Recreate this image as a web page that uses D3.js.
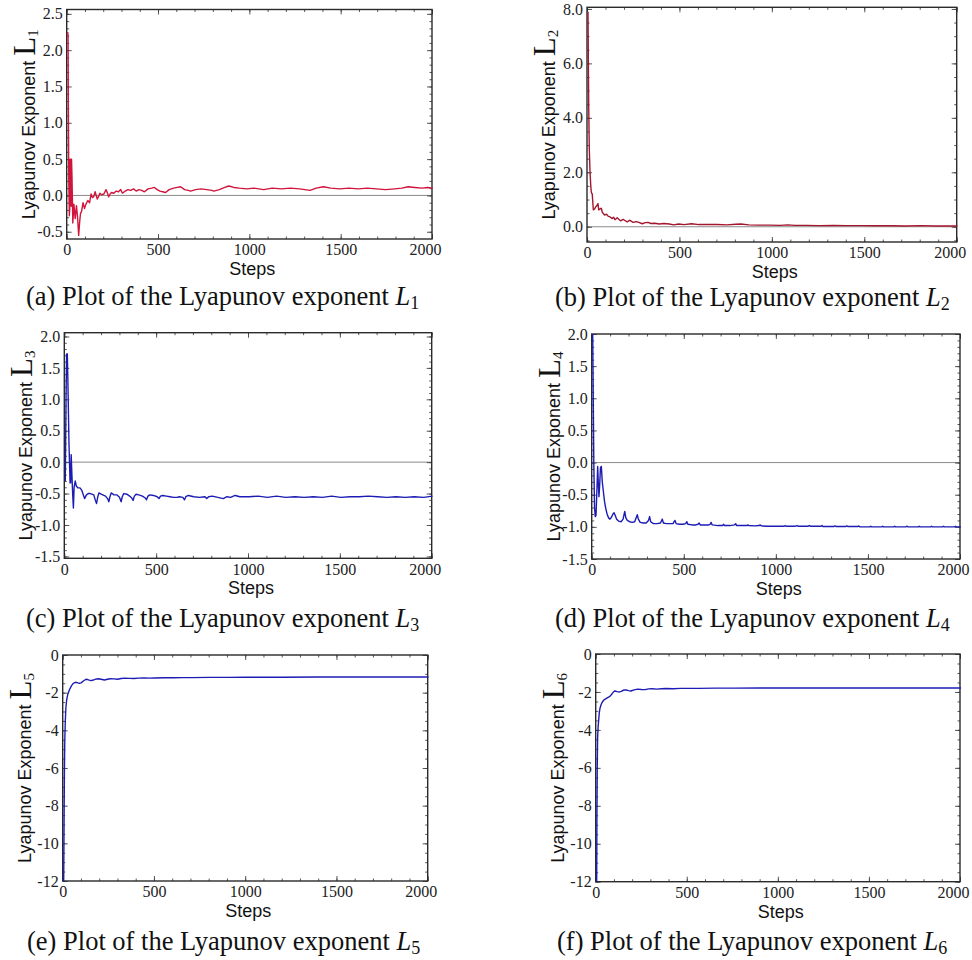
<!DOCTYPE html>
<meta charset="utf-8">
<style>
body { margin: 0; background: #fff; }
svg { display: block; }
</style>
<svg width="972" height="960"></svg>
<script src="https://cdn.jsdelivr.net/npm/d3@7"></script>
<script>

// [step, exponent]
var l1 = [[0,2.25],[2,2.2],[4,1.0],[6,0.2],[9,-0.28],[11,-0.2],[13,0.5],[15,0.5],[17,0.1],[19,-0.15],[21,0.5],[24,0.2],[28,-0.38],[34,-0.12],[41,-0.32],[48,-0.14],[54,-0.3],[60,-0.55],[66,-0.35],[70,-0.25],[76,-0.22],[84,-0.1],[92,-0.18],[100,-0.12],[110,-0.07],[120,-0.1],[128,0.02],[135,-0.03],[142,-0.02],[150,0.05],[156,0.0],[162,-0.05],[170,-0.01],[176,0.03],[186,0.01],[198,0.02],[210,0.08],[218,0.03],[224,-0.02],[232,0.02],[240,0.04],[252,0.03],[266,0.06],[278,0.05],[290,0.08],[300,0.03],[315,0.06],[330,0.08],[345,0.07],[360,0.09],[375,0.06],[390,0.08],[405,0.07],[420,0.05],[440,0.09],[460,0.10],[475,0.11],[490,0.08],[505,0.06],[520,0.05],[536,0.04],[555,0.08],[580,0.10],[600,0.11],[618,0.12],[640,0.08],[660,0.07],[673,0.06],[700,0.08],[730,0.09],[760,0.08],[790,0.07],[800,0.06],[830,0.08],[860,0.11],[882,0.13],[910,0.11],[940,0.1],[980,0.09],[1020,0.10],[1073,0.08],[1120,0.10],[1170,0.09],[1220,0.1],[1270,0.09],[1327,0.07],[1360,0.1],[1400,0.12],[1440,0.1],[1490,0.09],[1540,0.1],[1590,0.09],[1640,0.1],[1690,0.09],[1740,0.08],[1790,0.09],[1830,0.1],[1864,0.12],[1900,0.11],[1940,0.1],[1970,0.11],[2000,0.1]];

var l2 = [[0,7.9],[2,6.0],[4,4.4],[7,2.85],[11,2.0],[15,1.5],[18,1.26],[23,1.2],[26,0.9],[29,0.62],[35,0.65],[41,0.72],[47,0.77],[54,0.85],[58,0.62],[66,0.66],[72,0.68],[78,0.52],[84,0.48],[90,0.43],[100,0.46],[110,0.38],[120,0.36],[131,0.30],[138,0.35],[146,0.26],[158,0.33],[168,0.27],[176,0.22],[190,0.27],[200,0.23],[212,0.18],[225,0.24],[235,0.2],[245,0.16],[260,0.19],[275,0.16],[293,0.11],[310,0.15],[325,0.16],[340,0.12],[360,0.13],[385,0.1],[410,0.12],[440,0.1],[464,0.07],[490,0.1],[520,0.08],[560,0.11],[600,0.08],[647,0.085],[700,0.08],[750,0.07],[800,0.09],[827,0.1],[870,0.07],[920,0.06],[980,0.06],[1040,0.05],[1080,0.07],[1120,0.05],[1180,0.05],[1250,0.04],[1330,0.05],[1400,0.04],[1480,0.04],[1560,0.035],[1640,0.035],[1720,0.03],[1800,0.04],[1880,0.03],[1950,0.025],[2000,0.025]];

var l3 = [[0,-0.3],[4,1.0],[7,1.72],[9,1.6],[11,1.72],[14,1.3],[20,0.3],[26,-0.33],[29,-0.33],[32,0.12],[36,-0.2],[40,-0.5],[44,-0.73],[48,-0.4],[54,-0.3],[60,-0.38],[69,-0.41],[80,-0.41],[90,-0.45],[98,-0.52],[105,-0.58],[115,-0.52],[125,-0.5],[135,-0.5],[145,-0.51],[155,-0.52],[163,-0.6],[170,-0.66],[177,-0.55],[183,-0.49],[195,-0.51],[210,-0.53],[219,-0.54],[230,-0.58],[237,-0.63],[243,-0.55],[250,-0.49],[265,-0.52],[280,-0.52],[295,-0.56],[304,-0.63],[310,-0.55],[318,-0.5],[335,-0.51],[350,-0.54],[362,-0.57],[369,-0.61],[376,-0.54],[385,-0.51],[400,-0.52],[420,-0.54],[435,-0.57],[442,-0.6],[450,-0.54],[460,-0.52],[480,-0.53],[500,-0.55],[510,-0.58],[518,-0.54],[530,-0.53],[550,-0.54],[570,-0.55],[590,-0.56],[608,-0.56],[620,-0.55],[640,-0.56],[649,-0.6],[656,-0.55],[670,-0.53],[700,-0.55],[730,-0.56],[760,-0.55],[770,-0.58],[780,-0.55],[800,-0.54],[830,-0.56],[860,-0.58],[880,-0.55],[900,-0.56],[915,-0.54],[925,-0.53],[950,-0.55],[1000,-0.55],[1050,-0.54],[1100,-0.56],[1150,-0.54],[1200,-0.56],[1250,-0.55],[1300,-0.56],[1350,-0.55],[1400,-0.56],[1450,-0.54],[1500,-0.56],[1550,-0.55],[1600,-0.55],[1650,-0.54],[1700,-0.55],[1750,-0.56],[1800,-0.55],[1850,-0.56],[1900,-0.55],[1950,-0.56],[2000,-0.54]];

var l4 = [[0,2.0],[3,1.0],[6,0.0],[10,-0.7],[14,-0.84],[18,-0.82],[22,-0.5],[27,-0.06],[31,-0.35],[34,-0.53],[38,-0.35],[42,-0.08],[47,-0.06],[52,-0.3],[58,-0.45],[64,-0.6],[70,-0.7],[78,-0.8],[86,-0.86],[94,-0.88],[102,-0.85],[110,-0.8],[116,-0.78],[122,-0.82],[130,-0.88],[140,-0.91],[155,-0.92],[165,-0.88],[174,-0.76],[180,-0.86],[188,-0.9],[200,-0.92],[215,-0.93],[228,-0.92],[236,-0.86],[242,-0.81],[248,-0.88],[258,-0.93],[275,-0.94],[290,-0.94],[303,-0.9],[309,-0.84],[315,-0.92],[330,-0.95],[350,-0.95],[368,-0.94],[373,-0.91],[378,-0.88],[384,-0.94],[400,-0.95],[420,-0.95],[436,-0.95],[442,-0.92],[447,-0.9],[453,-0.95],[470,-0.96],[490,-0.96],[505,-0.95],[511,-0.92],[517,-0.96],[540,-0.97],[560,-0.97],[572,-0.96],[578,-0.94],[584,-0.97],[610,-0.97],[630,-0.97],[638,-0.96],[643,-0.93],[649,-0.97],[680,-0.98],[705,-0.98],[710,-0.96],[716,-0.98],[745,-0.98],[770,-0.97],[776,-0.95],[782,-0.98],[810,-0.98],[838,-0.98],[843,-0.97],[848,-0.98],[880,-0.985],[904,-0.98],[910,-0.97],[916,-0.985],[950,-0.99],[1000,-0.99],[1040,-0.99],[1045,-0.98],[1050,-0.99],[1100,-0.99],[1110,-0.98],[1115,-0.99],[1170,-0.99],[1176,-0.98],[1182,-0.99],[1240,-0.99],[1245,-0.98],[1250,-0.995],[1310,-0.995],[1315,-0.985],[1320,-0.995],[1375,-0.995],[1380,-0.985],[1385,-0.995],[1440,-0.995],[1445,-0.985],[1450,-1.0],[1505,-1.0],[1510,-0.99],[1515,-1.0],[1570,-1.0],[1575,-0.99],[1580,-1.0],[1635,-1.0],[1640,-0.99],[1645,-1.0],[1700,-1.0],[1707,-0.99],[1712,-1.0],[1768,-1.0],[1773,-0.99],[1778,-1.0],[1835,-1.0],[1840,-0.99],[1845,-1.0],[1900,-1.0],[1905,-0.99],[1910,-1.0],[1965,-1.0],[1970,-0.99],[1975,-1.0],[2000,-1.0]];

var l5 = [[0,-12],[2,-9],[4,-6.1],[6,-4.5],[9,-3.45],[12,-2.8],[16,-2.4],[22,-2.1],[31,-1.86],[40,-1.68],[49,-1.54],[58,-1.47],[68,-1.45],[78,-1.48],[86,-1.5],[95,-1.48],[108,-1.38],[120,-1.3],[128,-1.29],[140,-1.33],[150,-1.36],[162,-1.33],[175,-1.28],[190,-1.26],[205,-1.29],[223,-1.33],[240,-1.29],[255,-1.26],[275,-1.27],[295,-1.29],[315,-1.25],[335,-1.23],[360,-1.24],[385,-1.25],[410,-1.23],[440,-1.22],[470,-1.23],[500,-1.22],[550,-1.21],[600,-1.21],[650,-1.2],[700,-1.2],[800,-1.19],[900,-1.19],[1000,-1.18],[1200,-1.18],[1400,-1.17],[1600,-1.17],[1800,-1.17],[2000,-1.17]];

var l6 = [[0,-12],[1,-9],[3,-6],[5,-4.4],[8,-3.8],[11,-3.48],[14,-3.1],[18,-2.86],[25,-2.65],[33,-2.5],[42,-2.4],[51,-2.35],[60,-2.3],[70,-2.25],[80,-2.15],[88,-2.05],[95,-1.97],[101,-1.95],[112,-1.98],[124,-2.0],[135,-1.97],[148,-1.9],[161,-1.9],[175,-1.93],[188,-1.95],[205,-1.89],[225,-1.85],[245,-1.87],[265,-1.88],[285,-1.84],[305,-1.83],[330,-1.85],[355,-1.83],[380,-1.82],[420,-1.83],[460,-1.81],[500,-1.81],[560,-1.81],[650,-1.8],[750,-1.8],[900,-1.79],[1100,-1.79],[1400,-1.79],[1700,-1.79],[2000,-1.79]];

var stepTicks = [0, 500, 1000, 1500, 2000];
var ticksA = [-0.5, 0.0, 0.5, 1.0, 1.5, 2.0, 2.5];
var ticksB = [0.0, 2.0, 4.0, 6.0, 8.0];
var ticksCD = [-1.5, -1.0, -0.5, 0.0, 0.5, 1.0, 1.5, 2.0];
var ticksEF = [-12, -10, -8, -6, -4, -2, 0];

var red = "#d0143c", darkRed = "#a3162e", blue = "#1c1cb4";

var panels = [
  {tag: "a", n: "1", data: l1, color: red,     x0: 66.7,  x1: 432,   y0: 9.5,   y1: 239,   dom: [-0.6, 2.56],  ticks: ticksA,  minor: 0.1, fmt: ".1f", zero: true,  capX: 26,  capY: 305},
  {tag: "b", n: "2", data: l2, color: darkRed, x0: 587,   x1: 956.7, y0: 7.3,   y1: 242,   dom: [-0.56, 8.06], ticks: ticksB,  minor: 0.5, fmt: ".1f", zero: true,  capX: 555, capY: 306},
  {tag: "c", n: "3", data: l3, color: blue,    x0: 64.3,  x1: 431.7, y0: 332.7, y1: 558.3, dom: [-1.53, 2.06], ticks: ticksCD, minor: 0.1, fmt: ".1f", zero: true,  capX: 26,  capY: 627},
  {tag: "d", n: "4", data: l4, color: blue,    x0: 591.7, x1: 960,   y0: 334,   y1: 559,   dom: [-1.5, 2.0],   ticks: ticksCD, minor: 0.1, fmt: ".1f", zero: true,  capX: 555, capY: 627},
  {tag: "e", n: "5", data: l5, color: blue,    x0: 62.7,  x1: 427.7, y0: 655,   y1: 881,   dom: [-12, 0],      ticks: ticksEF, minor: 0.5, fmt: "d",   zero: false, capX: 27,  capY: 950},
  {tag: "f", n: "6", data: l6, color: blue,    x0: 595.7, x1: 960,   y0: 654,   y1: 881.7, dom: [-12, 0],      ticks: ticksEF, minor: 0.5, fmt: "d",   zero: false, capX: 557, capY: 950}
];

var svg = d3.select("svg");
var serif = "Liberation Serif";
var sans = "Liberation Sans";

function hyphen(f) {
  return function(d) { return f(d).replace("\u2212", "-"); };
}

function styleAxis(sel) {
  sel.select(".domain").remove();
  sel.selectAll("line").attr("stroke", "#444").attr("stroke-width", 0.9);
  sel.attr("font-family", null).attr("font-size", null);
  sel.selectAll("text")
    .attr("fill", "#222")
    .style("font-family", serif)
    .style("font-size", "16px");
}

panels.forEach(function(p) {
  var x = d3.scaleLinear().domain([0, 2000]).range([p.x0, p.x1]);
  var y = d3.scaleLinear().domain(p.dom).range([p.y1, p.y0]);
  var g = svg.append("g");

  g.append("clipPath").attr("id", "clip" + p.tag)
    .append("rect").attr("x", p.x0 - 1).attr("y", p.y0)
    .attr("width", p.x1 - p.x0 + 1).attr("height", p.y1 - p.y0);

  if (p.zero) {
    g.append("line")
      .attr("x1", p.x0).attr("x2", p.x1)
      .attr("y1", y(0)).attr("y2", y(0))
      .attr("stroke", "#8a8a8a").attr("stroke-width", 1);
  }

  var xMinor = d3.range(0, 2001, 100);
  var yMinor = d3.range(Math.ceil(p.dom[0] / p.minor) * p.minor, p.dom[1] + 1e-9, p.minor);

  // labelled axes: bottom and left
  var bottom = g.append("g").attr("transform", "translate(0," + p.y1 + ")")
    .call(d3.axisBottom(x).tickValues(stepTicks).tickSize(-5).tickPadding(5).tickFormat(d3.format("d")))
    .call(styleAxis);
  bottom.selectAll(".tick").filter(function(d) { return d === 2000; })
    .select("text").attr("text-anchor", "end").attr("dx", 9);
  g.append("g").attr("transform", "translate(" + p.x0 + ",0)")
    .call(d3.axisLeft(y).tickValues(p.ticks).tickSize(-5).tickPadding(4).tickFormat(hyphen(d3.format(p.fmt))))
    .call(styleAxis);

  // unlabelled frame ticks on the other sides, plus minor ticks
  g.append("g").attr("transform", "translate(0," + p.y0 + ")")
    .call(d3.axisTop(x).tickValues(stepTicks).tickSize(-5).tickFormat(""))
    .call(styleAxis);
  g.append("g").attr("transform", "translate(" + p.x1 + ",0)")
    .call(d3.axisRight(y).tickValues(p.ticks).tickSize(-5).tickFormat(""))
    .call(styleAxis);
  [[d3.axisBottom(x).tickValues(xMinor), p.y1, true], [d3.axisTop(x).tickValues(xMinor), p.y0, true],
   [d3.axisLeft(y).tickValues(yMinor), p.x0, false], [d3.axisRight(y).tickValues(yMinor), p.x1, false]]
    .forEach(function(a) {
      g.append("g")
        .attr("transform", a[2] ? "translate(0," + a[1] + ")" : "translate(" + a[1] + ",0)")
        .call(a[0].tickSize(-2.5).tickFormat(""))
        .call(styleAxis);
    });

  g.append("rect")
    .attr("x", p.x0).attr("y", p.y0)
    .attr("width", p.x1 - p.x0).attr("height", p.y1 - p.y0)
    .attr("fill", "none").attr("stroke", "#2a2a2a").attr("stroke-width", 1.4);

  // series drawn over the frame so the steep start stays visible
  var line = d3.line().x(function(d) { return x(d[0]); }).y(function(d) { return y(d[1]); });
  g.append("path").datum(p.data)
    .attr("clip-path", "url(#clip" + p.tag + ")")
    .attr("transform", "translate(1,0)")
    .attr("d", line)
    .attr("fill", "none")
    .attr("stroke", p.color)
    .attr("stroke-width", 1.4)
    .attr("stroke-linejoin", "round");

  g.append("text")
    .attr("x", (p.x0 + p.x1) / 2 + 3).attr("y", p.y1 + 36)
    .attr("text-anchor", "middle")
    .style("font-family", sans).style("font-size", "18px").attr("fill", "#111")
    .text("Steps");

  var yl = g.append("text")
    .attr("transform", "translate(" + (p.x0 - 32) + "," + ((p.y0 + p.y1) / 2) + ") rotate(-90)")
    .attr("text-anchor", "middle").attr("fill", "#111");
  yl.append("tspan").style("font-family", sans).style("font-size", "18px").text("Lyapunov Exponent ");
  yl.append("tspan").style("font-family", serif).style("font-size", "31px").text("L");
  yl.append("tspan").style("font-family", serif).style("font-size", "15px").attr("dy", 3).text(p.n);

  var cap = g.append("text")
    .attr("x", p.capX).attr("y", p.capY)
    .style("font-family", serif).style("font-size", "26.5px").attr("fill", "#111");
  cap.append("tspan").text("(" + p.tag + ") Plot of the Lyapunov exponent ");
  cap.append("tspan").style("font-style", "italic").text("L");
  cap.append("tspan").style("font-size", "18px").attr("dy", 4).text(p.n);
});

</script>
